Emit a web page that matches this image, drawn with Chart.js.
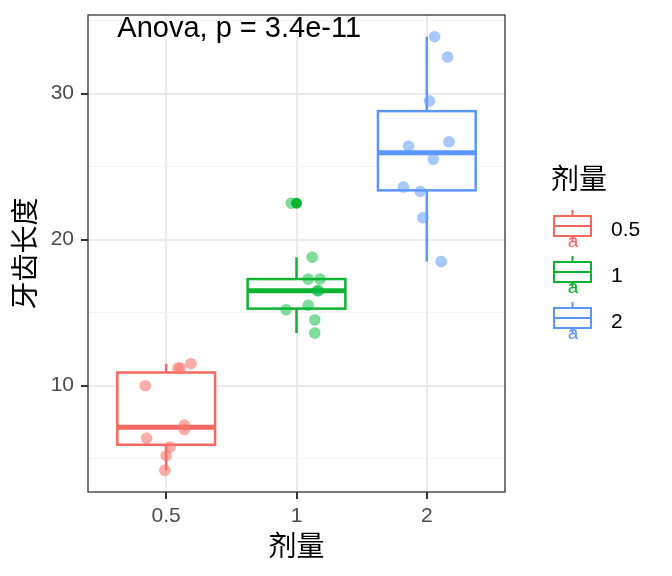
<!DOCTYPE html>
<html>
<head>
<meta charset="utf-8">
<script src="https://cdn.jsdelivr.net/npm/chart.js@4/dist/chart.umd.min.js"></script>
<style>
  body { margin: 0; background: #fff; }
  #wrap { position: relative; width: 672px; height: 576px; }
  #legend { position: absolute; left: 0; top: 0; font-family: "Liberation Sans", Arial, sans-serif; }
  .ltitle { position: absolute; left: 551px; top: 162px; font: 28px/30px "Noto Sans CJK SC", sans-serif; color: #000; white-space: nowrap; }
  .lkey { position: absolute; left: 550px; }
  .llabel { position: absolute; left: 611px; font-size: 21px; line-height: 24px; color: #000; white-space: nowrap; }
</style>
</head>
<body>
<div id="wrap">
  <canvas id="grafico" width="672" height="576"></canvas>
  <div id="legend"></div>
</div>
<script>
// categorias (dose) e cores
const doses = ['0.5', '1', '2'];
const cores = ['#F5675F', '#0EB431', '#5B95FF'];
const coresPontos = ['rgba(248,118,109,0.6)', 'rgba(0,186,56,0.5)', 'rgba(97,156,255,0.55)'];

// estatisticas das caixas
const minimos = [4.2, 13.6, 18.5];
const q1 = [5.95, 15.275, 23.375];
const medianas = [7.15, 16.5, 25.95];
const q3 = [10.9, 17.3, 28.8];
const maximos = [11.5, 18.8, 33.9];

// outliers
const outliers = [[], [22.5], []];

// pontos com jitter (valor, deslocamento em x)
const valores05 = [11.5, 11.2, 11.2, 10.0, 7.3, 7.0, 6.4, 5.8, 5.2, 4.2];
const jitter05 = [0.19, 0.09, 0.11, -0.16, 0.14, 0.14, -0.15, 0.03, 0.0, -0.01];
const valores1 = [22.5, 18.8, 17.3, 17.3, 16.5, 16.5, 15.5, 15.2, 14.5, 13.6];
const jitter1 = [-0.04, 0.12, 0.18, 0.09, 0.17, 0.16, 0.09, -0.08, 0.14, 0.14];
const valores2 = [33.9, 32.5, 29.5, 26.7, 26.4, 25.5, 23.6, 23.3, 21.5, 18.5];
const jitter2 = [0.06, 0.16, 0.02, 0.17, -0.14, 0.05, -0.18, -0.05, -0.03, 0.11];

const ticksY = [5, 10, 15, 20, 25, 30, 35];
const textoAnova = 'Anova, p = 3.4e-11';

const fonteNum = '"Liberation Sans", Arial, sans-serif';
const fonteCJK = '"Noto Sans CJK SC", sans-serif';
const larguraCaixa = 0.75;

const grupos = [[valores05, jitter05], [valores1, jitter1], [valores2, jitter2]];

const datasets = grupos.map(function (g, i) {
  return {
    label: doses[i],
    data: g[0].map((v, k) => ({ x: i + 1 + g[1][k], y: v })),
    backgroundColor: coresPontos[i],
    borderColor: coresPontos[i],
    borderWidth: 0.5,
    pointRadius: 5.5,
    order: 1
  };
});
outliers.forEach(function (lista, i) {
  if (lista.length) {
    datasets.push({
      label: 'outlier ' + doses[i],
      data: lista.map(v => ({ x: i + 1, y: v })),
      backgroundColor: cores[i],
      borderColor: cores[i],
      borderWidth: 0,
      pointRadius: 5.5,
      order: 2
    });
  }
});

// desenha as caixas antes dos pontos
const boxplotPlugin = {
  id: 'boxplot',
  beforeDatasetsDraw(chart) {
    const { ctx, scales: { x, y } } = chart;
    ctx.save();
    for (let i = 0; i < doses.length; i++) {
      const cx = x.getPixelForValue(i + 1);
      const xl = x.getPixelForValue(i + 1 - larguraCaixa / 2);
      const xr = x.getPixelForValue(i + 1 + larguraCaixa / 2);
      const yq1 = y.getPixelForValue(q1[i]);
      const yq3 = y.getPixelForValue(q3[i]);
      ctx.strokeStyle = cores[i];
      ctx.lineWidth = 2.5;
      ctx.beginPath();
      ctx.moveTo(cx, y.getPixelForValue(maximos[i]));
      ctx.lineTo(cx, yq3);
      ctx.moveTo(cx, yq1);
      ctx.lineTo(cx, y.getPixelForValue(minimos[i]));
      ctx.stroke();
      ctx.fillStyle = '#fff';
      ctx.fillRect(xl, yq3, xr - xl, yq1 - yq3);
      ctx.strokeRect(xl, yq3, xr - xl, yq1 - yq3);
      ctx.lineWidth = 5;
      ctx.beginPath();
      ctx.moveTo(xl, y.getPixelForValue(medianas[i]));
      ctx.lineTo(xr, y.getPixelForValue(medianas[i]));
      ctx.stroke();
    }
    ctx.restore();
  },
  afterDraw(chart) {
    const { ctx, chartArea: a, scales: { x, y } } = chart;
    ctx.save();
    ctx.strokeStyle = '#333333';
    ctx.lineWidth = 1.3;
    ctx.strokeRect(a.left, a.top, a.right - a.left, a.bottom - a.top);
    ctx.fillStyle = '#000';
    ctx.font = '29px ' + fonteNum;
    ctx.textAlign = 'left';
    ctx.textBaseline = 'alphabetic';
    ctx.fillText(textoAnova, x.getPixelForValue(0.625), y.getPixelForValue(33.9));
    ctx.restore();
  }
};

const ctx = document.getElementById('grafico');
new Chart(ctx, {
  type: 'scatter',
  data: { datasets: datasets },
  plugins: [boxplotPlugin],
  options: {
    responsive: false,
    animation: false,
    devicePixelRatio: 1,
    layout: { padding: { top: 15, right: 167, left: 0, bottom: 0 } },
    plugins: { legend: { display: false }, tooltip: { enabled: false } },
    scales: {
      x: {
        type: 'linear',
        min: 0.4,
        max: 3.6,
        afterBuildTicks: s => { s.ticks = [1, 2, 3].map(v => ({ value: v })); },
        afterFit: s => { s.height = 84; s.paddingLeft = 0; s.paddingRight = 0; },
        ticks: {
          callback: v => doses[v - 1],
          font: { family: fonteNum, size: 21 },
          color: '#4D4D4D',
          padding: 5,
          maxRotation: 0
        },
        grid: { color: '#EBEBEB', lineWidth: 2, tickColor: '#333333', tickLength: 7, tickWidth: 2 },
        border: { display: false },
        title: {
          display: true,
          text: '剂量',
          font: { family: fonteCJK, size: 28, lineHeight: 1.2 },
          color: '#000',
          padding: { top: 0, bottom: 14 }
        }
      },
      y: {
        min: 2.715,
        max: 35.385,
        afterBuildTicks: s => { s.ticks = ticksY.map(v => ({ value: v })); },
        afterFit: s => { s.width = 88; s.paddingTop = 0; s.paddingBottom = 0; },
        ticks: {
          callback: v => (v % 10 === 0 ? String(v) : ''),
          font: { family: fonteNum, size: 21 },
          color: '#4D4D4D',
          padding: 7
        },
        grid: {
          color: c => (c.tick && c.tick.value % 10 === 0 ? '#EBEBEB' : '#F3F3F3'),
          lineWidth: c => (c.tick && c.tick.value % 10 === 0 ? 2 : 1),
          tickColor: c => (c.tick && c.tick.value % 10 === 0 ? '#333333' : 'rgba(0,0,0,0)'),
          tickLength: 7,
          tickWidth: 2
        },
        border: { display: false },
        title: {
          display: true,
          text: '牙齿长度',
          font: { family: fonteCJK, size: 28, lineHeight: 1.2 },
          color: '#000',
          padding: { top: 8, bottom: 0 }
        }
      }
    }
  }
});

// legenda em HTML com as chaves desenhadas em canvas
function montarLegenda() {
  const leg = document.getElementById('legend');
  const t = document.createElement('div');
  t.className = 'ltitle';
  t.textContent = '剂量';
  leg.appendChild(t);
  doses.forEach(function (d, i) {
    const topo = 206 + i * 46;
    const c = document.createElement('canvas');
    c.width = 44; c.height = 46;
    c.className = 'lkey';
    c.style.top = topo + 'px';
    const g = c.getContext('2d');
    g.strokeStyle = cores[i];
    g.lineWidth = 2;
    g.beginPath();
    g.moveTo(22.5, 4); g.lineTo(22.5, 10);
    g.moveTo(22.5, 30); g.lineTo(22.5, 36);
    g.stroke();
    g.fillStyle = '#fff';
    g.fillRect(4, 10, 37, 20);
    g.strokeRect(4, 10, 37, 20);
    g.beginPath();
    g.moveTo(4, 20); g.lineTo(41, 20);
    g.stroke();
    g.fillStyle = cores[i];
    g.font = '19px ' + fonteNum;
    g.textAlign = 'center';
    g.fillText('a', 23, 41);
    leg.appendChild(c);
    const l = document.createElement('div');
    l.className = 'llabel';
    l.style.top = (topo + 11) + 'px';
    l.textContent = d;
    leg.appendChild(l);
  });
}
montarLegenda();
</script>
</body>
</html>
